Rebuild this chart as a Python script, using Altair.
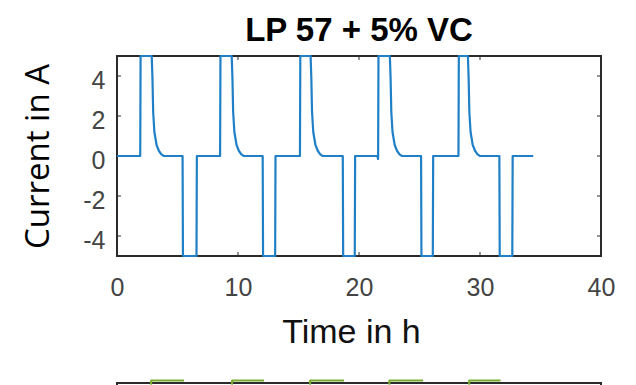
import altair as alt
import pandas as pd

# ---- current trace (time in h, current in A) ----
time_h = [0, 1.92, 1.95, 2.87, 2.93, 2.99, 3.09, 3.27, 3.47, 3.67, 3.87, 5.42, 5.45, 6.57, 6.60,
          8.52, 8.55, 9.48, 9.54, 9.60, 9.70, 9.88, 10.08, 10.28, 10.48, 12.04, 12.07, 13.07, 13.10,
          15.12, 15.15, 16.00, 16.06, 16.12, 16.22, 16.40, 16.60, 16.80, 17.00, 18.66, 18.69, 19.65, 19.68,
          21.52, 21.58, 21.61, 22.55, 22.61, 22.67, 22.77, 22.95, 23.15, 23.35, 23.55, 25.13, 25.16, 26.10, 26.13,
          28.22, 28.25, 29.00, 29.06, 29.12, 29.22, 29.40, 29.60, 29.80, 30.00, 31.60, 31.63, 32.67, 32.70,
          34.40]
current_a = [0, 0, 5, 5, 3.9, 2.2, 1.2, 0.55, 0.25, 0.08, 0, 0, -5, -5, 0,
             0, 5, 5, 3.9, 2.2, 1.2, 0.55, 0.25, 0.08, 0, 0, -5, -5, 0,
             0, 5, 5, 3.9, 2.2, 1.2, 0.55, 0.25, 0.08, 0, 0, -5, -5, 0,
             0, -0.15, 5, 5, 3.9, 2.2, 1.2, 0.55, 0.25, 0.08, 0, 0, -5, -5, 0,
             0, 5, 5, 3.9, 2.2, 1.2, 0.55, 0.25, 0.08, 0, 0, -5, -5, 0,
             0]

# ---- second panel (voltage), only its clipped tops are visible ----
volt_cycle = [1, 1, 1, 2, 2, 2, 3, 3, 3, 4, 4, 4, 5, 5, 5]
volt_time = [2.81, 2.83, 5.54, 9.50, 9.52, 12.15, 15.95, 15.97, 18.76, 22.50, 22.52, 25.30, 29.10, 29.12, 31.70]
volt_v = [4.19, 4.215, 4.215, 4.19, 4.215, 4.215, 4.19, 4.215, 4.215, 4.19, 4.215, 4.215, 4.19, 4.215, 4.215]

x_ticks = [0, 10, 20, 30, 40]
y_ticks = [-4, -2, 0, 2, 4]
inner_x_ticks = [10, 20, 30]

cur = pd.DataFrame({"t": time_h, "i": current_a})
volt = pd.DataFrame({"t": volt_time, "v": volt_v, "cycle": volt_cycle})

BLUE = "#1f80c8"
GREEN = "#77ac30"
FRAME = "#2b2b2b"
TICKC = "#444444"

xscale = alt.Scale(domain=[0, 40], nice=False, zero=False)
yscale = alt.Scale(domain=[-5, 5], nice=False)

xaxis = alt.Axis(values=x_ticks, title="Time in h", grid=False, domain=False, ticks=False, tickSize=0,
                 labelFont="Liberation Sans", labelFontSize=25, labelColor=TICKC, labelPadding=19,
                 titleFont="Liberation Sans", titleFontSize=34, titleFontWeight="normal", titleColor="#111111",
                 titlePadding=15, titleX=234, labelFlush=False)
yaxis = alt.Axis(values=y_ticks, title="Current in A", grid=False, domain=False, ticks=False, tickSize=0,
                 labelFont="Liberation Sans", labelFontSize=25, labelColor=TICKC, labelPadding=12,
                 labelOffset=4, labelExpr="'' + datum.value",
                 titleFont="Open Sans", titleFontSize=33, titleFontWeight="normal", titleColor="#000000",
                 titlePadding=27)

line = alt.Chart(cur).mark_line(color=BLUE, strokeWidth=2.2, strokeJoin="round", clip=False).encode(
    x=alt.X("t:Q", scale=xscale, axis=xaxis),
    y=alt.Y("i:Q", scale=yscale, axis=yaxis),
)

xt = pd.DataFrame({"t": inner_x_ticks})
yt = pd.DataFrame({"v": y_ticks})
tick_bottom = alt.Chart(xt).mark_rule(color=FRAME, strokeWidth=1).encode(
    x="t:Q", y=alt.datum(-5), y2=alt.datum(-4.8))
tick_top = alt.Chart(xt).mark_rule(color=FRAME, strokeWidth=1).encode(
    x="t:Q", y=alt.datum(5), y2=alt.datum(4.8))
tick_left = alt.Chart(yt).mark_rule(color=FRAME, strokeWidth=1).encode(
    y="v:Q", x=alt.datum(0), x2=alt.datum(0.33))
tick_right = alt.Chart(yt).mark_rule(color=FRAME, strokeWidth=1).encode(
    y="v:Q", x=alt.datum(40), x2=alt.datum(39.67))

top = alt.layer(tick_bottom, tick_top, tick_left, tick_right, line).properties(
    width=484, height=200,
    title=alt.TitleParams("LP 57 + 5% VC", font="Liberation Sans", fontSize=33, fontWeight="bold",
                          color="#000000", anchor="middle", offset=7),
)

bottom = alt.Chart(volt).mark_line(color=GREEN, strokeWidth=2.2, strokeJoin="round", clip=False).encode(
    x=alt.X("t:Q", scale=xscale, axis=None),
    y=alt.Y("v:Q", scale=alt.Scale(domain=[3.0, 4.2], nice=False, zero=False), axis=None),
    detail="cycle:N",
).properties(width=484, height=200)

chart = alt.vconcat(top, bottom, spacing=28).properties(
    padding={"left": 13, "top": 5, "right": 5, "bottom": 5},
).configure_view(stroke=FRAME, strokeWidth=2)

chart.save("out.html", embed_options={"renderer": "svg", "actions": False})
